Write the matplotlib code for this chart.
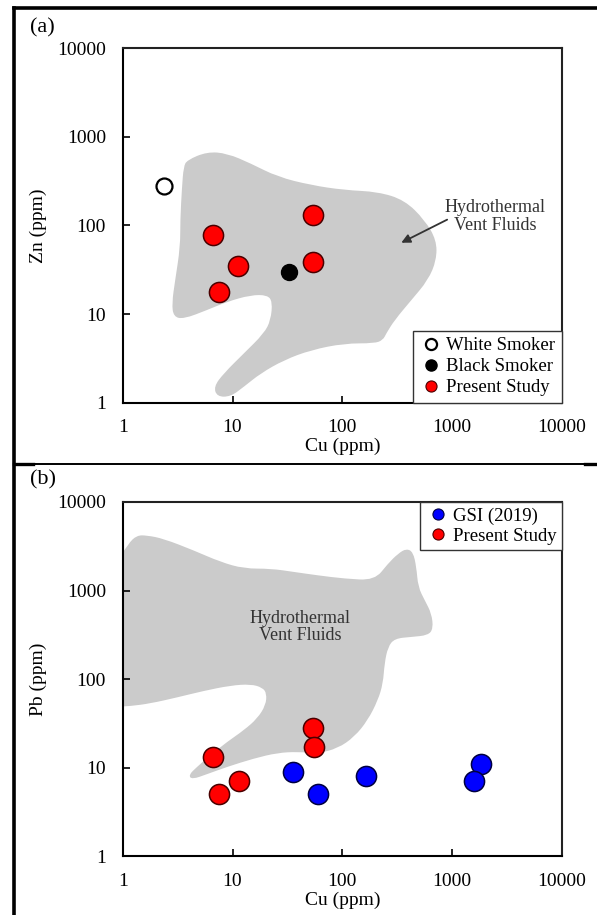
import numpy as np
import matplotlib
matplotlib.use('Agg')
import matplotlib.pyplot as plt
from matplotlib.lines import Line2D
from matplotlib.path import Path
from matplotlib.patches import PathPatch

plt.rcParams['font.family'] = ['Liberation Serif', 'DejaVu Serif']

# panel (a): Cu vs Zn
white_cu = [2.4]
white_zn = [280]
black_cu = [32.7]
black_zn = [29.5]
study_a_cu = [6.7, 11.3, 7.5, 54, 53.6]
study_a_zn = [78, 35, 17.6, 132, 38.3]

# vent fluid field (a), log10 Cu / log10 Zn
field_a_lcu = [0.586, 0.769, 0.951, 1.165, 1.409, 1.714, 2.018, 2.324, 2.567, 2.750,
               2.857, 2.857, 2.781, 2.629, 2.476, 2.400, 2.370, 2.293, 2.018, 1.714,
               1.469, 1.256, 1.104, 0.982, 0.860, 0.829, 0.920, 1.104, 1.287, 1.348,
               1.363, 1.317, 1.165, 0.951, 0.769, 0.555, 0.463, 0.448, 0.478, 0.524,
               0.524, 0.540, 0.555]
field_a_lzn = [2.736, 2.830, 2.812, 2.699, 2.548, 2.454, 2.398, 2.379, 2.285, 2.060,
               1.834, 1.609, 1.383, 1.158, 0.932, 0.782, 0.707, 0.669, 0.669, 0.594,
               0.481, 0.331, 0.180, 0.068, 0.068, 0.180, 0.331, 0.557, 0.782, 0.932,
               1.139, 1.214, 1.214, 1.139, 1.045, 0.944, 0.970, 1.121, 1.383, 1.759,
               2.060, 2.435, 2.661]

# panel (b): Cu vs Pb
gsi_cu = [35.2, 60.4, 165, 1820, 1580]
gsi_pb = [9.0, 5.05, 8.06, 11.0, 7.08]
study_b_cu = [6.7, 11.4, 7.5, 53.6, 54.7]
study_b_pb = [13.3, 7.1, 5.05, 28.5, 17]

field_b_lcu = [-0.08, -0.08, 0.051, 0.128, 0.220, 0.371, 0.646, 0.890, 1.104, 1.348,
               1.561, 1.775, 2.018, 2.293, 2.415, 2.507, 2.583, 2.644, 2.674, 2.690,
               2.750, 2.812, 2.827, 2.781, 2.629, 2.476, 2.415, 2.384, 2.370, 2.324,
               2.232, 2.110, 1.958, 1.775, 1.592, 1.409, 1.195, 0.951, 0.769, 0.631,
               0.600, 0.677, 0.799, 0.951, 1.104, 1.226, 1.302, 1.311, 1.272, 1.165,
               0.982, 0.737, 0.494, 0.250, 0.067]
field_b_lpb = [1.688, 3.266, 3.530, 3.623, 3.623, 3.586, 3.454, 3.323, 3.248, 3.248,
               3.210, 3.172, 3.135, 3.116, 3.304, 3.417, 3.474, 3.435, 3.266, 3.041,
               2.891, 2.741, 2.572, 2.496, 2.477, 2.459, 2.364, 2.177, 1.952, 1.763,
               1.538, 1.350, 1.219, 1.162, 1.181, 1.169, 1.106, 1.011, 0.929, 0.869,
               0.918, 1.011, 1.143, 1.293, 1.425, 1.557, 1.707, 1.839, 1.906, 1.944,
               1.929, 1.868, 1.794, 1.726, 1.696]

ticks = [1, 10, 100, 1000, 10000]
tick_labels = ['1', '10', '100', '1000', '10000']

field_color = '#cbcbcb'
red = '#ff0000'
red_edge = '#4a0000'
blue = '#0000ff'
blue_edge = '#000040'


def smooth_field(ax, lx, ly):
    # closed outline drawn with quadratic bezier segments through the traced vertices
    p = np.column_stack([10 ** np.array(lx), 10 ** np.array(ly)])
    lp = np.column_stack([lx, ly])
    mids = 10 ** ((lp + np.roll(lp, -1, axis=0)) / 2)
    verts = [mids[-1]]
    codes = [Path.MOVETO]
    for i in range(len(p)):
        verts += [p[i], mids[i]]
        codes += [Path.CURVE3, Path.CURVE3]
    verts.append(mids[-1])
    codes.append(Path.CLOSEPOLY)
    ax.add_patch(PathPatch(Path(verts, codes), facecolor=field_color, lw=0, zorder=1))


fig = plt.figure(figsize=(5.97, 9.15), dpi=100)
ax_a = fig.add_axes([0.2055, 0.5599, 0.7359, 0.3876])
ax_b = fig.add_axes([0.2055, 0.0640, 0.7359, 0.3874])


def style_axes(ax, ylabel):
    ax.set_xscale('log')
    ax.set_yscale('log')
    ax.set_xlim(1, 10000)
    ax.set_ylim(1, 10000)
    ax.set_xticks(ticks)
    ax.set_xticklabels(tick_labels)
    ax.set_yticks(ticks)
    ax.set_yticklabels(tick_labels)
    ax.minorticks_off()
    ax.tick_params(direction='in', length=5, width=1.2, labelsize=14, pad=12,
                   colors='black')
    for s in ax.spines.values():
        s.set_linewidth(1.5)
    ax.spines['top'].set_color('#222222')
    ax.spines['right'].set_color('#222222')
    ax.set_xlabel('Cu (ppm)', fontsize=14, labelpad=1)
    ax.set_ylabel(ylabel, fontsize=14, labelpad=7)


# ---- panel (a)
smooth_field(ax_a, field_a_lcu, field_a_lzn)
ax_a.plot(white_cu, white_zn, 'o', ms=11.5, mfc='white', mec='black', mew=1.6, zorder=3)
ax_a.plot(black_cu, black_zn, 'o', ms=11.5, mfc='black', mec='black', zorder=3)
ax_a.plot(study_a_cu, study_a_zn, 'o', ms=14.5, mfc=red, mec=red_edge, mew=1.1,
          ls='none', zorder=3)
ax_a.text(2443, 125, 'Hydrothermal\nVent Fluids', ha='center', va='center',
          fontsize=13, color='#333333', linespacing=1.05)
ax_a.annotate('', xy=(344, 63.7), xytext=(900, 116),
              arrowprops=dict(arrowstyle='-|>', color='#333333', lw=1.3,
                              mutation_scale=13, shrinkA=0, shrinkB=0))
style_axes(ax_a, 'Zn (ppm)')

handles_a = [
    Line2D([], [], ls='none', marker='o', ms=8, mfc='white', mec='black', mew=1.6),
    Line2D([], [], ls='none', marker='o', ms=8, mfc='black', mec='black'),
    Line2D([], [], ls='none', marker='o', ms=8, mfc=red, mec=red_edge, mew=0.8),
]
leg_a = ax_a.legend(handles_a, ['White Smoker', 'Black Smoker', 'Present Study'],
                    loc='lower right', borderaxespad=0, fancybox=False,
                    edgecolor='#333333', framealpha=1, fontsize=13.5,
                    handletextpad=0.15, handlelength=1.3, labelspacing=0.2,
                    borderpad=0.35)
leg_a.get_frame().set_linewidth(1.0)

# ---- panel (b)
smooth_field(ax_b, field_b_lcu, field_b_lpb)
ax_b.text(41.3, 389, 'Hydrothermal\nVent Fluids', ha='center', va='center',
          fontsize=13, color='#333333', zorder=2, linespacing=1.05)
ax_b.plot(gsi_cu, gsi_pb, 'o', ms=14.5, mfc=blue, mec=blue_edge, mew=1.1,
          ls='none', zorder=3)
ax_b.plot(study_b_cu, study_b_pb, 'o', ms=14.5, mfc=red, mec=red_edge, mew=1.1,
          ls='none', zorder=3)
style_axes(ax_b, 'Pb (ppm)')

handles_b = [
    Line2D([], [], ls='none', marker='o', ms=8, mfc=blue, mec=blue_edge, mew=0.8),
    Line2D([], [], ls='none', marker='o', ms=8, mfc=red, mec=red_edge, mew=0.8),
]
leg_b = ax_b.legend(handles_b, ['GSI (2019)', 'Present Study'],
                    loc='upper right', borderaxespad=0, fancybox=False,
                    edgecolor='#333333', framealpha=1, fontsize=13.5,
                    handletextpad=0.15, handlelength=1.3, labelspacing=0.15,
                    borderpad=0.3)
leg_b.get_frame().set_linewidth(1.0)

# panel labels
fig.text(30 / 597, 1 - 28 / 915, '(a)', fontsize=16, ha='left', va='center')
fig.text(30 / 597, 1 - 480 / 915, '(b)', fontsize=16, ha='left', va='center')

# table-like frame lines
W, H = 597, 915
fig.add_artist(Line2D([14 / W, 1], [1 - 8 / H, 1 - 8 / H], color='black', lw=2.6))
fig.add_artist(Line2D([14 / W, 14 / W], [0, 1 - 8 / H], color='black', lw=2.6))
fig.add_artist(Line2D([14 / W, 1], [1 - 464 / H, 1 - 464 / H], color='black', lw=1.4))
fig.add_artist(Line2D([14 / W, 33 / W], [1 - 464 / H, 1 - 464 / H], color='black', lw=2.4))
fig.add_artist(Line2D([585 / W, 1], [1 - 464 / H, 1 - 464 / H], color='black', lw=2.4))

fig.savefig('out.png', dpi=100)
